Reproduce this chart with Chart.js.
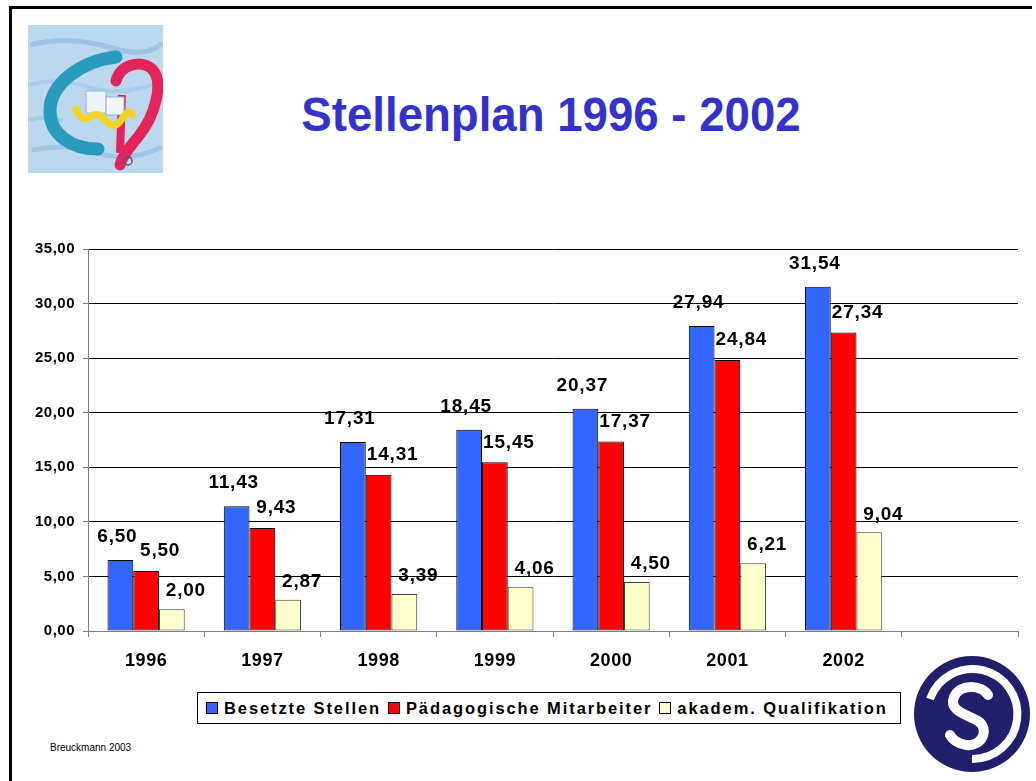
<!DOCTYPE html>
<html lang="de">
<head>
<meta charset="utf-8">
<title>Stellenplan 1996 - 2002</title>
<script src="https://cdn.jsdelivr.net/npm/chart.js@4/dist/chart.umd.min.js"></script>
<style>
    html, body { margin: 0; padding: 0; background: #fff; }
    body { width: 1036px; height: 781px; position: relative; overflow: hidden; font-family: "Liberation Sans", Arial, sans-serif; }
    .frame-top { position: absolute; left: 9px; top: 6px; width: 1023px; height: 3px; background: #000; }
    .frame-left { position: absolute; left: 9px; top: 6px; width: 3px; height: 790px; background: #000; }
    #title { position: absolute; left: 0; top: 91px; width: 1102px; text-align: center; font-weight: bold; font-size: 48px; line-height: 48px; color: #3333CC; transform: scaleX(0.95); transform-origin: 551px 0; white-space: nowrap; }
    #chartBox { position: absolute; left: 0; top: 230px; width: 1036px; height: 460px; }
    #legend { position: absolute; left: 197px; top: 692px; width: 702px; height: 30px; border: 1px solid #000; display: flex; align-items: center; box-sizing: content-box; }
    #legend .item { display: flex; align-items: center; font-weight: bold; font-size: 16.5px; letter-spacing: 1.9px; color: #000; white-space: nowrap; }
    #legend .swatch { width: 10px; height: 10px; border: 1px solid #000; margin-right: 6px; }
    #footer { position: absolute; left: 50px; top: 742px; font-size: 10px; color: #000; }
    svg { position: absolute; }
</style>
</head>
<body>
<div class="frame-top"></div>
<div class="frame-left"></div>

<svg id="logoLeft" style="left:28px; top:25px;" width="135" height="148" viewBox="0 0 135 148">
    <rect x="0" y="0" width="135" height="148" fill="#bcd8ef"/>
    <path d="M2 20 Q40 10 80 22 T134 18" stroke="#9cc4e6" stroke-width="5" fill="none"/>
    <path d="M0 60 Q30 52 60 62 T130 58" stroke="#a8cdea" stroke-width="4" fill="none"/>
    <path d="M4 125 Q40 118 70 128 T134 122" stroke="#9ec6e6" stroke-width="5" fill="none"/>
    <path d="M0 95 Q20 90 35 96" stroke="#a4c9e8" stroke-width="4" fill="none"/>
    <path d="M88 32 C54 36 22 58 22 86 C22 110 44 124 70 124" stroke="#2a9bbd" stroke-width="13" fill="none" stroke-linecap="round"/>
    <path d="M88 56 C92 40 112 34 124 44 C136 56 128 90 110 112 C100 124 94 132 92 140" stroke="#e2245a" stroke-width="11" fill="none" stroke-linecap="round"/>
    <path d="M94 70 L92 128" stroke="#e2245a" stroke-width="8" fill="none"/>
    <rect x="58" y="66" width="20" height="22" fill="#eef4fb" stroke="#8fb4d8" stroke-width="1"/>
    <rect x="78" y="72" width="18" height="18" fill="#f4f6fb" stroke="#8fb4d8" stroke-width="1"/>
    <path d="M48 84 Q54 98 62 92 T78 96 T94 94 T104 90" stroke="#f2d322" stroke-width="7" fill="none" stroke-linecap="round"/>
    <circle cx="100" cy="136" r="4" fill="none" stroke="#556" stroke-width="1.5"/>
</svg>

<div id="title">Stellenplan 1996 - 2002</div>

<div id="chartBox"><canvas id="chart" width="1036" height="460"></canvas></div>

<div id="legend">
    <div class="item" style="margin-left:8px;"><span class="swatch" style="background:#3366FF"></span>Besetzte Stellen</div>
    <div class="item" style="margin-left:7px;"><span class="swatch" style="background:#FF0000"></span>Pädagogische Mitarbeiter</div>
    <div class="item" style="margin-left:7px;"><span class="swatch" style="background:#FFFFCC"></span>akadem. Qualifikation</div>
</div>

<div id="footer">Breuckmann 2003</div>

<svg id="logoRight" style="left:912px; top:655px;" width="120" height="120" viewBox="0 0 120 120">
    <circle cx="60" cy="59" r="58" fill="#1f1f6b"/>
    <path d="M60 104 A45 45 0 1 0 18 44" stroke="#fff" stroke-width="8" fill="none"/>
    <path d="M76 40 C70 30 48 28 42 42 C36 56 56 60 66 66 C78 74 70 92 54 90 C46 89 40 84 38 80" stroke="#fff" stroke-width="10" fill="none" stroke-linecap="round"/>
</svg>

<script>
// Werte aus der Grafik
const years = ['1996', '1997', '1998', '1999', '2000', '2001', '2002', ''];
const besetzteStellen = [6.50, 11.43, 17.31, 18.45, 20.37, 27.94, 31.54];
const paedMitarbeiter = [5.50, 9.43, 14.31, 15.45, 17.37, 24.84, 27.34];
const akademQualifikation = [2.00, 2.87, 3.39, 4.06, 4.50, 6.21, 9.04];
const yMin = 0, yMax = 35, yStep = 5;

const seriesNames = ['Besetzte Stellen', 'Pädagogische Mitarbeiter', 'akadem. Qualifikation'];
const seriesColors = ['#3366FF', '#FF0000', '#FFFFCC'];
// kleine Verschiebung der Wertbeschriftungen je Reihe (wie im Original)
const labelShift = [[-3, -23], [14, -20], [14, -18]];

const FONT = '"Liberation Sans", Arial, sans-serif';
const fmt = v => v.toFixed(2).replace('.', ',');

const valueLabels = {
    id: 'valueLabels',
    beforeDraw(chart) {
        chart.ctx.letterSpacing = '0.5px';
    },
    afterDatasetsDraw(chart) {
        const ctx = chart.ctx;
        ctx.save();
        ctx.font = 'bold 19px ' + FONT;
        ctx.letterSpacing = '0.8px';
        ctx.fillStyle = '#000';
        ctx.textAlign = 'center';
        ctx.textBaseline = 'middle';
        chart.data.datasets.forEach((ds, i) => {
            const meta = chart.getDatasetMeta(i);
            const [dx, dy] = labelShift[i];
            meta.data.forEach((bar, j) => {
                const v = ds.data[j];
                if (v == null) return;
                ctx.fillText(fmt(v), bar.x + dx, bar.y + dy);
            });
        });
        ctx.restore();
    },
    afterDraw(chart) {
        chart.ctx.letterSpacing = '0px';
    }
};

const datasets = [besetzteStellen, paedMitarbeiter, akademQualifikation].map((data, i) => ({
    label: seriesNames[i],
    data: data,
    backgroundColor: seriesColors[i],
    borderColor: i === 2 ? '#404040' : '#000',
    borderWidth: 1,
    borderSkipped: false,
    categoryPercentage: 0.664,
    barPercentage: 1.0
}));

new Chart(document.getElementById('chart'), {
    type: 'bar',
    data: { labels: years, datasets: datasets },
    options: {
        responsive: false,
        devicePixelRatio: 1,
        animation: false,
        layout: { padding: { top: 19, right: 18, left: 0, bottom: 0 } },
        plugins: {
            legend: { display: false },
            tooltip: { enabled: false },
            title: { display: false }
        },
        scales: {
            x: {
                offset: true,
                grid: {
                    offset: true,
                    drawOnChartArea: false,
                    drawTicks: true,
                    tickLength: 6,
                    tickColor: '#808080'
                },
                border: { color: '#808080', width: 1 },
                ticks: {
                    color: '#000',
                    font: { family: FONT, size: 18, weight: 'bold' },
                    padding: 13,
                    maxRotation: 0
                },
                afterFit: s => { s.height = 59; }
            },
            y: {
                min: yMin,
                max: yMax,
                ticks: {
                    stepSize: yStep,
                    color: '#000',
                    font: { family: FONT, size: 15, weight: 'bold' },
                    padding: 8,
                    callback: v => fmt(v)
                },
                grid: {
                    color: c => (c.tick && c.tick.value === 0) ? '#808080' : '#000',
                    lineWidth: 1,
                    tickLength: 5,
                    tickColor: '#808080'
                },
                border: { color: '#808080', width: 1 },
                afterFit: s => { s.width = 88; }
            }
        }
    },
    plugins: [valueLabels]
});
</script>
</body>
</html>
